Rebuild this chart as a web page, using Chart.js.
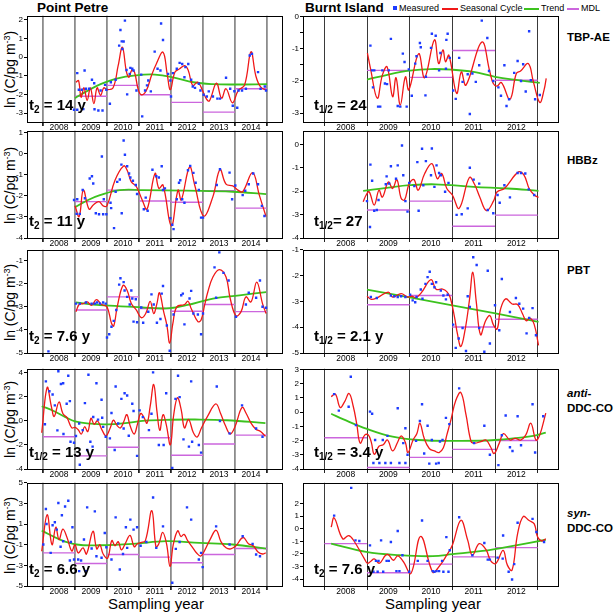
<!DOCTYPE html>
<html>
<head>
<meta charset="utf-8">
<script src="https://cdn.jsdelivr.net/npm/chart.js@4.4.0/dist/chart.umd.min.js"></script>
<style>
body{margin:0;width:614px;height:614px;position:relative;background:#fff;overflow:hidden;font-family:"Liberation Sans",Arial,sans-serif;color:#000}
canvas{position:absolute}
.t{position:absolute;white-space:nowrap;line-height:1}
.b{font-weight:bold}
.hl{position:absolute;white-space:nowrap;font-weight:bold;font-size:15px;line-height:1}
.hl sub{font-size:10px;vertical-align:-3px}
.yt{position:absolute;width:110px;left:-45px;text-align:center;font-size:14px;transform:rotate(-90deg);white-space:nowrap}
.yt sup{font-size:9px}
.cn{position:absolute;left:567px;font-weight:bold;font-size:11.5px;line-height:15px}
.lg{position:absolute;top:4px;font-size:9px;line-height:9px}
.ln{position:absolute;height:2px;top:8px}
</style>
</head>
<body>
<div class="t b" style="left:37px;top:1px;font-size:13.5px">Point Petre</div>
<div class="t b" style="left:305px;top:1px;font-size:13.5px">Burnt Island</div>
<div style="position:absolute;left:393px;top:6px;width:4px;height:4px;background:#1d3bff"></div>
<div class="lg" style="left:399px">Measured</div>
<div class="ln" style="left:442px;width:16px;background:#f01818"></div>
<div class="lg" style="left:460px">Seasonal Cycle</div>
<div class="ln" style="left:524px;width:15px;background:#3cc21e"></div>
<div class="lg" style="left:541px">Trend</div>
<div class="ln" style="left:567px;width:12px;background:#cc66dd"></div>
<div class="lg" style="left:581px">MDL</div>

<div class="cn" style="top:30px">TBP-AE</div>
<div class="cn" style="top:153px">HBBz</div>
<div class="cn" style="top:263px">PBT</div>
<div class="cn" style="top:386px"><i>anti</i>-<br>DDC-CO</div>
<div class="cn" style="top:506px"><i>syn</i>-<br>DDC-CO</div>

<div class="yt" style="top:61px">ln (C/pg m<sup>-3</sup>)</div>
<div class="yt" style="top:177px">ln (C/pg m<sup>-3</sup>)</div>
<div class="yt" style="top:294px">ln (C/pg m<sup>-3</sup>)</div>
<div class="yt" style="top:411px">ln (C/pg m<sup>-3</sup>)</div>
<div class="yt" style="top:527px">ln (C/pg m<sup>-3</sup>)</div>

<div class="t" style="left:108px;top:596px;font-size:15px">Sampling year</div>
<div class="t" style="left:385px;top:596px;font-size:15px">Sampling year</div>

<script type="text/javascript">
// Point Petre, TBP-AE
const ppTbpPts = [[2009.07,-0.86],[2009.12,-1.75],[2008.97,-2.82],[2009.07,-2.82],[2009.26,-2.79],[2009.21,-1.75],[2009.34,-1.7],[2009.44,-1.7],[2009.3,-0.72],[2009.53,-1.22],[2009.6,-1.4],[2009.61,-2.8],[2009.73,-2.86],[2009.86,-2.86],[2009.8,-1.79],[2009.94,-1.49],[2009.98,-1.75],[2010.12,-1.35],[2010.09,-2.5],[2010.27,-1.22],[2010.38,0.61],[2010.42,1.45],[2010.46,0.84],[2010.52,0.83],[2010.56,1.95],[2010.48,0.43],[2010.61,-0.69],[2010.63,-2.0],[2010.71,-0.9],[2010.73,-0.58],[2010.79,-0.63],[2010.83,-0.72],[2010.92,-1.79],[2011.1,-3.18],[2011.07,-0.94],[2011.19,-1.79],[2011.25,-1.52],[2011.29,-1.26],[2011.37,-1.84],[2011.49,0.29],[2011.58,-0.63],[2011.67,-0.72],[2011.69,1.8],[2011.75,0.91],[2011.91,-0.9],[2011.98,-1.26],[2012.0,-2.11],[2012.06,-0.86],[2012.18,-0.63],[2012.27,-0.31],[2012.35,-0.37],[2012.45,-0.54],[2012.54,-0.37],[2012.42,-1.08],[2012.63,-1.22],[2012.68,-1.58],[2012.75,-1.65],[2012.87,-1.43],[2012.92,-1.79],[2013.02,-2.02],[2013.12,-2.11],[2013.18,-1.84],[2013.31,-2.11],[2013.45,-2.23],[2013.53,-2.23],[2013.72,-1.11],[2013.85,-1.7],[2013.93,-2.61],[2013.98,-1.83],[2014.07,-2.72],[2014.11,-1.79],[2014.22,-1.79],[2014.34,-1.7],[2014.46,0.08],[2014.53,0.17],[2014.72,-0.81],[2014.8,-1.7],[2014.93,-1.58],[2014.97,-1.79]];
const ppTbpSeas = [[2009.03,-1.35],[2009.11,-1.26],[2009.19,-2.15],[2009.28,-1.65],[2009.38,-2.32],[2009.48,-1.65],[2009.59,-2.5],[2009.69,-1.65],[2009.8,-2.05],[2009.9,-1.65],[2010.0,-1.75],[2010.19,-1.65],[2010.35,-0.45],[2010.48,0.52],[2010.61,-0.81],[2010.69,-1.08],[2010.77,-0.72],[2010.86,-0.81],[2010.97,-1.7],[2011.07,-2.02],[2011.23,-1.79],[2011.39,-0.99],[2011.54,-0.37],[2011.75,0.26],[2011.88,-0.9],[2011.98,-1.75],[2012.12,-0.81],[2012.27,-0.63],[2012.43,-0.46],[2012.54,-0.72],[2012.68,-1.52],[2012.83,-1.35],[2012.95,-1.65],[2013.1,-2.23],[2013.2,-2.35],[2013.42,-1.4],[2013.58,-2.2],[2013.72,-1.7],[2013.92,-2.45],[2014.1,-1.8],[2014.3,-1.5],[2014.5,0.28],[2014.65,-1.0],[2014.8,-1.6],[2015.0,-1.8]];
const ppTbpTrend = [[2009.0,-2.2],[2009.4,-1.8],[2009.8,-1.45],[2010.3,-1.15],[2010.9,-0.98],[2011.5,-0.94],[2012.1,-1.1],[2012.7,-1.35],[2013.3,-1.45],[2014.0,-1.47],[2015.0,-1.45]];
const ppTbpMdl = [[2009,-2.1],[2010,-1.52],[2011,-2.02],[2012,-2.43],[2013,-2.95],[2014,-1.7]];

// Burnt Island, TBP-AE
const biTbpPts = [[2009.08,-0.9],[2009.12,-1.67],[2009.17,-1.67],[2009.14,-2.2],[2009.26,-2.8],[2009.31,-2.8],[2009.36,-1.67],[2009.42,-2.08],[2009.47,-2.1],[2009.51,-1.67],[2009.56,-0.69],[2009.72,-2.78],[2009.78,-2.8],[2009.84,-1.15],[2009.88,-1.41],[2009.93,-2.8],[2009.98,-1.64],[2010.05,-2.46],[2010.13,-1.46],[2010.16,-1.23],[2010.24,-0.82],[2010.26,-0.95],[2010.37,-2.45],[2010.38,-1.87],[2010.5,-0.97],[2010.52,-0.53],[2010.61,-0.59],[2010.69,-1.67],[2010.72,-1.13],[2010.85,-1.62],[2010.86,-0.72],[2010.89,-0.53],[2010.94,-1.28],[2011.02,-2.3],[2011.08,-2.56],[2011.16,-1.28],[2011.24,-2.03],[2011.36,-1.79],[2011.41,-3.03],[2011.47,-1.77],[2011.55,-2.03],[2011.63,-1.51],[2011.69,-0.12],[2011.82,-0.66],[2011.86,-1.69],[2011.96,-2.0],[2012.08,-2.2],[2012.14,-2.46],[2012.22,-1.51],[2012.27,-2.78],[2012.33,-2.57],[2012.45,-1.75],[2012.53,-1.38],[2012.61,-2.0],[2012.66,-1.48],[2012.72,-2.33],[2012.8,-0.45],[2012.84,-1.98],[2012.94,-2.57],[2013.05,-2.44]];
const biTbpSeas = [[2009.01,-1.13],[2009.08,-1.6],[2009.24,-2.54],[2009.36,-1.82],[2009.47,-1.56],[2009.6,-2.49],[2009.68,-1.9],[2009.78,-2.75],[2009.9,-1.87],[2009.98,-2.28],[2010.21,-1.15],[2010.35,-1.9],[2010.58,-0.72],[2010.68,-1.46],[2010.78,-1.03],[2010.84,-1.4],[2010.92,-1.2],[2011.1,-2.39],[2011.21,-1.72],[2011.32,-2.13],[2011.69,-0.79],[2011.88,-1.72],[2011.96,-2.08],[2012.05,-2.16],[2012.15,-2.05],[2012.35,-2.57],[2012.5,-1.77],[2012.6,-1.69],[2012.78,-1.46],[2012.9,-2.03],[2013.05,-2.67],[2013.15,-2.28],[2013.2,-1.92]];
const biTbpTrend = [[2009.0,-1.96],[2009.5,-1.8],[2010.0,-1.68],[2010.5,-1.63],[2011.0,-1.65],[2011.5,-1.72],[2012.0,-1.87],[2012.5,-1.97],[2013.05,-2.06]];
const biTbpMdl = [[2009,-1.67],[2010,-1.89],[2011,-1.05],[2012,-1.98]];

// Point Petre, HBBz
const ppHbbPts = [[2008.97,-2.19],[2009.05,-2.85],[2009.15,-2.85],[2009.07,-2.16],[2009.31,-2.11],[2009.24,-1.72],[2009.46,-1.17],[2009.53,-1.06],[2009.57,-1.41],[2009.65,-2.82],[2009.75,-2.87],[2009.84,-0.12],[2009.88,-2.87],[2009.98,-2.87],[2009.9,-2.16],[2010.11,-2.32],[2010.13,-2.58],[2010.22,-3.53],[2010.27,-1.8],[2010.32,-1.33],[2010.4,-1.22],[2010.45,-0.51],[2010.52,0.64],[2010.56,-0.04],[2010.63,-0.59],[2010.69,-0.93],[2010.73,-1.12],[2010.81,-1.28],[2010.9,-1.48],[2010.94,-1.91],[2010.46,-2.82],[2011.15,-2.63],[2011.21,-2.08],[2011.27,-2.7],[2011.42,-0.75],[2011.54,-1.06],[2011.62,-1.12],[2011.71,-0.59],[2011.75,-1.72],[2011.81,-1.64],[2011.98,-3.06],[2012.04,-3.37],[2012.08,-3.58],[2012.18,-2.16],[2012.25,-1.37],[2012.29,-1.25],[2012.35,-2.16],[2012.42,-2.32],[2012.53,-0.78],[2012.6,-0.57],[2012.7,-0.9],[2012.77,-1.37],[2012.87,-1.72],[2012.94,-3.03],[2013.0,-3.03],[2013.43,-1.48],[2013.53,-0.73],[2013.83,-0.89],[2013.91,-2.16],[2014.01,-1.5],[2014.24,-1.96],[2014.32,-1.75],[2014.43,-1.44],[2014.57,-0.93],[2014.72,-1.44],[2014.84,-2.47],[2014.92,-2.95]];
const ppHbbSeas = [[2009.0,-2.47],[2009.13,-2.98],[2009.26,-1.72],[2009.44,-2.63],[2009.57,-2.43],[2009.75,-2.27],[2009.88,-2.47],[2010.0,-2.47],[2010.25,-1.25],[2010.52,-0.57],[2010.63,-0.78],[2010.76,-1.33],[2010.92,-1.56],[2011.1,-2.19],[2011.25,-2.63],[2011.5,-0.93],[2011.62,-1.64],[2011.75,-1.48],[2012.01,-3.42],[2012.22,-1.72],[2012.32,-2.19],[2012.58,-0.62],[2012.74,-1.48],[2013.02,-2.95],[2013.31,-2.03],[2013.53,-0.75],[2013.72,-1.44],[2013.93,-1.52],[2014.09,-1.72],[2014.24,-1.8],[2014.55,-0.89],[2014.76,-1.96],[2014.97,-2.98]];
const ppHbbTrend = [[2009.0,-2.54],[2009.41,-2.19],[2009.78,-1.96],[2010.4,-1.72],[2011.13,-1.72],[2012.48,-1.75],[2013.93,-1.8],[2014.97,-1.91]];
const ppHbbMdl = [[2009,-2.27],[2010,-1.72],[2011,-2.24],[2012,-2.3],[2013,-1.75],[2014,-2.58]];

// Burnt Island, HBBz
const biHbbPts = [[2009.0,-2.42],[2009.08,-0.86],[2009.07,-3.53],[2009.12,-1.55],[2009.17,-2.83],[2009.23,-2.8],[2009.27,-2.37],[2009.46,-1.36],[2009.44,-1.7],[2009.52,-1.67],[2009.56,-0.93],[2009.68,-1.46],[2009.72,-0.89],[2009.82,-0.04],[2009.85,-1.31],[2009.9,-2.42],[2009.95,-2.87],[2009.99,-1.64],[2010.11,-1.78],[2010.21,-2.83],[2010.18,-0.75],[2010.29,-0.18],[2010.32,-1.74],[2010.38,-0.71],[2010.5,-1.31],[2010.52,-0.17],[2010.58,-1.81],[2010.63,-0.89],[2010.69,-1.22],[2010.73,-1.31],[2010.83,-2.02],[2010.91,-1.64],[2011.1,-3.01],[2011.22,-2.98],[2011.36,-2.73],[2011.41,-0.99],[2011.5,-1.5],[2011.63,-1.67],[2011.83,-2.8],[2011.96,-2.94],[2012.06,-2.16],[2012.11,-2.49],[2012.22,-1.74],[2012.35,-2.26],[2012.53,-1.22],[2012.61,-1.22],[2012.71,-1.24],[2012.79,-1.92],[2012.92,-2.16]];
const biHbbSeas = [[2008.91,-2.45],[2008.98,-2.16],[2009.05,-2.02],[2009.17,-2.59],[2009.28,-1.95],[2009.36,-2.25],[2009.5,-1.6],[2009.6,-1.88],[2009.7,-1.5],[2009.8,-2.3],[2009.88,-2.37],[2009.99,-1.67],[2010.1,-1.5],[2010.2,-1.95],[2010.35,-1.25],[2010.52,-0.82],[2010.65,-1.46],[2010.75,-1.24],[2010.87,-1.88],[2011.0,-2.16],[2011.16,-2.73],[2011.4,-1.41],[2011.52,-1.7],[2011.64,-2.23],[2011.8,-2.83],[2011.97,-2.4],[2012.05,-2.02],[2012.22,-1.88],[2012.55,-1.17],[2012.68,-1.31],[2012.8,-1.88],[2012.92,-2.16],[2013.02,-2.26]];
const biHbbTrend = [[2008.91,-1.98],[2009.5,-1.84],[2010.0,-1.74],[2010.6,-1.7],[2011.5,-1.81],[2012.3,-1.88],[2013.02,-1.98]];
const biHbbMdl = [[2009,-2.8],[2010,-2.42],[2011,-3.5],[2012,-3.02]];

// Point Petre, PBT
const ppPbtPts = [[2008.17,-4.93],[2009.03,-2.86],[2009.15,-2.86],[2009.34,-2.81],[2009.52,-2.86],[2009.62,-2.86],[2009.69,-2.81],[2009.78,-2.86],[2009.88,-2.81],[2009.96,-2.86],[2010.0,-4.33],[2010.07,-4.19],[2010.14,-3.86],[2010.21,-3.61],[2010.29,-3.14],[2010.38,-2.04],[2010.42,-1.76],[2010.52,-1.93],[2010.55,-2.29],[2010.63,-2.57],[2010.71,-2.9],[2010.76,-2.29],[2010.79,-2.64],[2010.83,-3.64],[2010.94,-3.67],[2010.9,-2.67],[2011.07,-3.03],[2011.13,-3.69],[2011.29,-3.21],[2011.39,-2.46],[2011.46,-2.9],[2011.56,-3.69],[2011.67,-3.53],[2011.75,-2.1],[2011.71,-2.43],[2011.87,-3.81],[2011.96,-4.9],[2012.08,-3.33],[2012.32,-2.5],[2012.37,-2.43],[2012.42,-3.76],[2012.58,-2.64],[2012.63,-2.31],[2012.7,-3.29],[2012.84,-3.33],[2012.94,-4.19],[2013.0,-3.29],[2013.36,-1.29],[2013.51,-0.64],[2013.64,-1.53],[2013.8,-1.86],[2013.41,-2.61],[2014.03,-3.43],[2014.34,-2.9],[2014.43,-2.39],[2014.66,-2.61],[2014.78,-1.86],[2014.86,-3.0],[2014.97,-3.04]];
const ppPbtSeas = [[2009.03,-3.21],[2009.13,-2.9],[2009.26,-2.86],[2009.38,-2.79],[2009.52,-2.93],[2009.67,-2.69],[2009.83,-2.9],[2010.0,-3.0],[2010.14,-3.71],[2010.21,-3.83],[2010.32,-3.0],[2010.5,-2.07],[2010.63,-2.29],[2010.76,-2.86],[2010.92,-3.14],[2011.07,-3.47],[2011.21,-3.29],[2011.35,-2.76],[2011.46,-3.29],[2011.56,-2.86],[2011.64,-2.39],[2011.77,-3.21],[2011.87,-3.79],[2011.96,-4.57],[2012.06,-3.71],[2012.18,-3.0],[2012.42,-2.9],[2012.53,-2.76],[2012.63,-3.07],[2012.84,-3.64],[2012.94,-3.57],[2013.05,-2.93],[2013.15,-2.36],[2013.31,-1.71],[2013.51,-1.39],[2013.72,-1.71],[2013.85,-2.64],[2014.03,-3.39],[2014.19,-3.21],[2014.34,-2.57],[2014.5,-2.79],[2014.68,-1.93],[2014.86,-2.86],[2014.97,-3.29]];
const ppPbtTrend = [[2009.03,-2.81],[2009.78,-2.93],[2010.81,-3.0],[2011.85,-3.07],[2012.48,-2.93],[2013.31,-2.64],[2014.14,-2.5],[2014.97,-2.36]];
const ppPbtMdl = [[2009,-3.14],[2010,-2.57],[2011,-3.07],[2012,-3.19],[2013,-2.9],[2014,-3.21]];

// Burnt Island, PBT
const biPbtPts = [[2009.09,-2.83],[2009.23,-2.87],[2009.56,-2.77],[2009.64,-2.8],[2009.72,-2.83],[2009.8,-2.8],[2009.9,-2.83],[2010.01,-2.74],[2010.07,-2.96],[2010.13,-3.03],[2010.16,-2.83],[2010.26,-2.54],[2010.3,-2.9],[2010.37,-2.32],[2010.42,-2.06],[2010.47,-1.85],[2010.52,-2.32],[2010.58,-2.45],[2010.62,-2.26],[2010.73,-2.58],[2010.79,-2.77],[2010.85,-2.92],[2010.89,-2.74],[2011.02,-3.9],[2011.08,-4.8],[2011.15,-4.44],[2011.24,-4.03],[2011.32,-4.92],[2011.36,-2.8],[2011.41,-3.22],[2011.49,-1.29],[2011.57,-1.59],[2011.63,-4.03],[2011.75,-4.95],[2011.83,-1.81],[2011.88,-4.63],[2012.0,-3.15],[2012.1,-4.12],[2012.16,-2.13],[2012.35,-3.41],[2012.49,-2.87],[2012.57,-3.09],[2012.66,-3.28],[2012.74,-4.24],[2012.8,-3.64],[2012.88,-3.26],[2012.96,-4.31]];
const biPbtSeas = [[2009.0,-2.8],[2009.1,-2.92],[2009.25,-2.85],[2009.5,-2.64],[2009.6,-2.83],[2009.8,-2.7],[2009.95,-2.83],[2010.05,-2.8],[2010.15,-2.85],[2010.27,-2.67],[2010.5,-2.16],[2010.62,-2.53],[2010.77,-2.52],[2010.87,-2.62],[2010.95,-2.85],[2011.05,-3.6],[2011.12,-4.26],[2011.2,-4.75],[2011.3,-4.09],[2011.4,-2.96],[2011.48,-1.87],[2011.56,-3.0],[2011.66,-4.29],[2011.78,-3.75],[2011.88,-3.55],[2011.96,-3.9],[2012.05,-4.07],[2012.13,-3.3],[2012.25,-2.9],[2012.4,-3.1],[2012.53,-3.12],[2012.65,-3.5],[2012.73,-3.75],[2012.82,-3.65],[2012.92,-3.9],[2013.02,-4.7]];
const biPbtTrend = [[2009.0,-2.54],[2011.0,-3.15],[2013.02,-3.79]];
const biPbtMdl = [[2009,-3.13],[2010,-2.77],[2011,-3.99],[2012,-3.69]];

// Point Petre, anti-DDC-CO
const ppAntiPts = [[2008.06,-0.29],[2008.09,3.26],[2008.2,2.44],[2008.3,2.17],[2008.37,1.27],[2008.48,4.1],[2008.56,3.04],[2008.63,3.1],[2008.74,1.4],[2008.79,3.73],[2008.84,1.62],[2008.86,-1.74],[2008.97,-1.82],[2009.03,-1.27],[2009.13,-0.23],[2009.15,-3.65],[2009.24,-0.78],[2009.31,1.46],[2009.38,-2.42],[2009.42,3.81],[2009.48,-1.74],[2009.55,-2.15],[2009.57,0.31],[2009.67,3.1],[2009.72,0.09],[2009.83,1.73],[2009.88,-0.51],[2009.96,-1.33],[2010.09,-1.46],[2010.14,0.64],[2010.24,-2.42],[2010.27,2.83],[2010.35,-0.23],[2010.45,1.81],[2010.52,-0.64],[2010.55,2.28],[2010.63,2.09],[2010.79,1.4],[2010.83,0.8],[2010.94,-2.91],[2011.02,0.86],[2011.31,-0.78],[2011.39,0.58],[2011.44,4.0],[2011.62,-2.01],[2011.77,-2.01],[2011.85,2.28],[2012.04,-3.92],[2012.14,1.81],[2012.22,3.73],[2012.27,1.95],[2012.39,-1.55],[2012.56,-2.15],[2012.63,3.26],[2012.66,-1.74],[2012.87,-2.01],[2012.94,-2.64],[2013.43,2.83],[2013.53,-0.02],[2013.83,-1.05],[2014.22,1.27],[2014.66,-0.64],[2014.86,-1.33],[2008.45,-0.8],[2008.64,-1.1],[2009.85,0.25],[2010.68,-1.25],[2011.12,0.3]];
const ppAntiSeas = [[2007.96,-1.0],[2008.13,2.75],[2008.26,1.2],[2008.35,0.35],[2008.5,1.55],[2008.62,0.6],[2008.75,0.25],[2008.9,-0.6],[2009.0,-0.55],[2009.1,-0.75],[2009.2,-1.1],[2009.3,-0.5],[2009.4,-0.9],[2009.5,0.2],[2009.6,-0.3],[2009.7,0.0],[2009.85,-0.8],[2009.97,-1.25],[2010.1,-0.6],[2010.2,0.05],[2010.3,-0.35],[2010.42,-0.6],[2010.52,-0.1],[2010.62,0.5],[2010.72,-0.4],[2010.85,-1.1],[2010.95,-0.3],[2011.05,0.6],[2011.15,0.3],[2011.25,-0.2],[2011.35,1.2],[2011.46,3.0],[2011.56,0.8],[2011.65,-0.8],[2011.75,0.5],[2011.85,-0.3],[2011.98,-2.0],[2012.08,0.4],[2012.2,1.9],[2012.32,0.9],[2012.42,-0.6],[2012.55,0.1],[2012.7,-1.0],[2012.82,-1.35],[2012.95,-0.6],[2013.15,0.4],[2013.4,1.4],[2013.55,0.6],[2013.7,-0.4],[2013.85,-1.1],[2014.0,-0.5],[2014.22,1.1],[2014.35,0.6],[2014.5,-0.2],[2014.65,-0.7],[2014.8,-0.9],[2014.95,-1.3]];
const ppAntiTrend = [[2007.96,1.2],[2008.3,0.85],[2008.7,0.3],[2009.0,-0.05],[2009.5,-0.25],[2010.0,-0.3],[2010.5,-0.22],[2011.2,0.0],[2012.0,0.08],[2012.75,0.1],[2013.75,0.04],[2014.95,-0.2]];
const ppAntiMdl = [[2008,-1.33],[2009,-2.91],[2010,-2.2],[2011,-1.41],[2012,-2.86],[2013,-1.93],[2014,-1.19]];

// Burnt Island, anti-DDC-CO
const biAntiPts = [[2008.23,1.27],[2008.34,0.11],[2008.57,0.38],[2008.62,2.49],[2008.74,-0.91],[2009.07,0.04],[2009.12,-0.11],[2009.19,-1.96],[2009.37,-1.96],[2009.48,-1.67],[2009.15,-3.58],[2009.29,-3.58],[2009.43,-3.58],[2009.56,-3.58],[2009.76,-3.58],[2009.9,-3.58],[2009.72,0.27],[2009.85,-2.18],[2009.9,-1.13],[2009.95,-3.0],[2010.15,-2.02],[2010.24,-0.62],[2010.29,0.56],[2010.34,-2.91],[2010.42,-0.96],[2010.46,-3.62],[2010.52,-1.96],[2010.62,-3.62],[2010.68,-3.58],[2010.71,-2.07],[2010.77,-1.96],[2010.85,-0.4],[2010.93,-0.84],[2011.16,1.67],[2011.51,-2.18],[2011.75,-0.96],[2011.88,-3.0],[2012.08,-3.73],[2012.16,-1.62],[2012.25,-0.24],[2012.35,-2.47],[2012.41,-2.73],[2012.53,-0.29],[2012.61,-2.33],[2012.88,0.56],[2012.94,-2.84],[2013.13,-0.29]];
const biAntiSeas = [[2008.16,1.09],[2008.26,1.27],[2008.37,0.33],[2008.47,0.7],[2008.58,1.31],[2008.68,0.38],[2008.76,-0.84],[2008.84,-2.18],[2008.95,-1.6],[2009.03,-1.6],[2009.1,-2.11],[2009.17,-2.96],[2009.28,-2.4],[2009.38,-2.29],[2009.48,-1.96],[2009.6,-2.73],[2009.72,-2.1],[2009.8,-1.67],[2009.9,-2.13],[2009.96,-2.84],[2010.08,-1.96],[2010.17,-1.5],[2010.24,-0.78],[2010.34,-1.84],[2010.46,-2.56],[2010.58,-2.73],[2010.69,-2.84],[2010.79,-2.51],[2010.87,-1.62],[2010.97,-0.51],[2011.08,0.82],[2011.2,1.38],[2011.32,-0.18],[2011.44,-2.07],[2011.52,-2.18],[2011.67,-2.07],[2011.79,-1.96],[2011.9,-2.47],[2011.98,-2.91],[2012.1,-2.18],[2012.2,-1.51],[2012.35,-1.96],[2012.47,-1.84],[2012.6,-1.96],[2012.72,-1.62],[2012.84,-0.78],[2012.96,-1.96],[2013.05,-1.6],[2013.19,-0.07]];
const biAntiTrend = [[2008.16,-0.11],[2008.45,-0.51],[2009.0,-1.18],[2009.6,-1.73],[2010.2,-1.96],[2011.0,-2.02],[2012.0,-1.96],[2012.9,-1.67],[2013.19,-1.44]];
const biAntiMdl = [[2008,-1.8],[2009,-3.89],[2010,-3.18],[2011,-2.62],[2012,-2.0]];

// Point Petre, syn-DDC-CO
const ppSynPts = [[2008.01,-0.98],[2008.09,2.46],[2008.11,1.01],[2008.24,-1.79],[2008.3,0.88],[2008.37,1.17],[2008.43,0.46],[2008.48,3.04],[2008.59,1.85],[2008.63,-0.66],[2008.69,2.71],[2008.79,3.26],[2008.84,-2.53],[2008.87,-0.73],[2008.92,0.69],[2008.97,-2.43],[2009.13,-3.56],[2009.1,-2.43],[2009.19,-2.53],[2009.34,-3.56],[2009.38,2.62],[2009.52,-1.37],[2009.62,2.23],[2009.67,-2.11],[2009.83,-2.27],[2009.93,0.14],[2009.98,-1.24],[2010.14,-2.43],[2010.27,1.65],[2010.4,-3.4],[2010.59,0.69],[2010.63,-1.31],[2010.73,1.43],[2010.83,0.46],[2010.94,0.69],[2011.23,-0.73],[2011.44,3.58],[2011.54,-1.31],[2011.75,0.78],[2012.04,-4.68],[2012.27,-0.73],[2012.5,2.62],[2012.63,1.43],[2012.87,-2.43],[2012.94,-1.79],[2012.99,-3.17],[2013.41,0.78],[2013.83,-0.98],[2014.24,-0.18],[2014.55,-0.92],[2014.66,-1.95],[2014.78,-2.11],[2008.55,-1.2],[2009.28,-0.5],[2010.5,-1.9],[2011.05,-1.1],[2012.15,-1.4]];
const ppSynSeas = [[2007.96,-1.63],[2008.13,1.9],[2008.28,-1.0],[2008.4,0.7],[2008.5,-0.5],[2008.62,0.5],[2008.75,-0.3],[2008.9,-1.6],[2009.0,-1.0],[2009.1,-1.8],[2009.25,-1.3],[2009.36,-1.9],[2009.56,0.3],[2009.68,-1.4],[2009.78,-1.0],[2009.88,-1.9],[2010.02,-2.3],[2010.15,-0.6],[2010.25,-1.1],[2010.35,-0.7],[2010.45,-1.5],[2010.57,-0.9],[2010.72,-0.1],[2010.85,-1.2],[2010.95,-0.9],[2011.05,-0.8],[2011.2,-0.6],[2011.4,2.3],[2011.53,-1.2],[2011.62,-0.9],[2011.74,0.2],[2011.86,-0.9],[2011.97,-3.1],[2012.07,-1.0],[2012.21,0.35],[2012.31,-0.2],[2012.41,0.0],[2012.52,-0.6],[2012.66,-1.2],[2012.8,-1.8],[2012.93,-2.1],[2013.06,-1.5],[2013.22,-0.5],[2013.41,0.4],[2013.56,-0.7],[2013.72,-1.3],[2013.87,-1.4],[2014.03,-1.1],[2014.25,-0.3],[2014.42,-0.9],[2014.57,-1.1],[2014.72,-1.7],[2014.86,-1.9],[2014.96,-1.8]];
const ppSynTrend = [[2007.96,0.37],[2008.53,-0.5],[2009.05,-0.98],[2009.78,-1.05],[2010.81,-0.92],[2011.85,-0.66],[2012.89,-0.82],[2013.93,-0.98],[2014.97,-1.37]];
const ppSynMdl = [[2008,-1.79],[2009,-2.82],[2010,-1.95],[2011,-2.2],[2012,-2.75],[2013,-1.95],[2014,-1.37]];

// Burnt Island, syn-DDC-CO
const biSynPts = [[2008.23,1.05],[2008.63,3.26],[2008.73,-0.92],[2008.82,-0.97],[2009.07,-1.32],[2009.15,-3.42],[2009.25,-3.42],[2009.38,-3.42],[2009.69,-3.37],[2009.76,-3.37],[2009.21,-2.55],[2009.27,-2.55],[2009.46,-2.55],[2009.51,-2.55],[2009.33,-0.92],[2009.56,-1.05],[2009.72,-0.18],[2009.83,-2.1],[2009.99,-3.42],[2010.19,-2.55],[2010.29,0.66],[2010.42,-2.55],[2010.54,-3.37],[2010.58,-3.42],[2010.63,-3.37],[2010.69,-3.37],[2010.76,-2.55],[2010.79,-3.42],[2010.86,-0.66],[2010.91,-3.42],[2010.94,-1.71],[2011.16,0.92],[2011.47,-2.1],[2011.75,-1.13],[2011.83,-2.45],[2011.88,-2.45],[2012.06,-2.29],[2012.18,-2.37],[2012.19,-0.53],[2012.32,-3.42],[2012.4,-4.03],[2012.45,-2.81],[2012.53,0.48],[2012.88,0.79],[2012.97,-0.26],[2013.15,-1.05]];
const biSynSeas = [[2008.16,0.13],[2008.23,0.87],[2008.43,-0.79],[2008.57,-0.55],[2008.68,-0.89],[2008.94,-2.39],[2009.01,-2.74],[2009.09,-2.58],[2009.17,-2.39],[2009.29,-2.74],[2009.43,-2.13],[2009.5,-2.05],[2009.62,-2.5],[2009.72,-2.15],[2009.85,-2.6],[2010.03,-3.55],[2010.26,-0.6],[2010.54,-3.45],[2010.69,-3.0],[2010.85,-2.2],[2011.0,-1.3],[2011.2,0.68],[2011.36,-0.9],[2011.47,-2.1],[2011.63,-1.18],[2011.79,-1.66],[2011.9,-2.55],[2012.02,-2.76],[2012.19,-1.71],[2012.29,-2.89],[2012.4,-3.29],[2012.53,-0.39],[2012.66,0.97],[2012.8,0.66],[2012.92,0.39],[2013.0,-0.66],[2013.1,-0.97],[2013.19,-0.79]];
const biSynTrend = [[2008.16,-1.18],[2008.98,-1.84],[2009.76,-2.1],[2010.54,-2.18],[2011.0,-2.02],[2011.71,-1.76],[2012.49,-1.31],[2013.19,-0.87]];
const biSynMdl = [[2008,-1.18],[2009,-3.5],[2010,-2.81],[2011,-2.23],[2012,-1.5]];

const ppYears = [2008, 2009, 2010, 2011, 2012, 2013, 2014];
const biYears = [2008, 2009, 2010, 2011, 2012];

const halfLives = ["t<sub>2</sub> = 14 y", "t<sub>1/2</sub> = 24", "t<sub>2</sub> = 11 y", "t<sub>1/2</sub>= 27",
  "t<sub>2</sub> = 7.6 y", "t<sub>1/2</sub> = 2.1 y", "t<sub>1/2</sub> = 13 y", "t<sub>1/2</sub> = 3.4 y",
  "t<sub>2</sub> = 6.6 y", "t<sub>2</sub> = 7.6 y"];

const rowBox = [[15,107],[130,108],[249,104],[368,101],[482,104]];

const panels = [
  {col:0,row:0,y:[-3.48,2.21],ticks:[-3,-2,-1,0,1,2],pts:ppTbpPts,seas:ppTbpSeas,trend:ppTbpTrend,mdl:ppTbpMdl},
  {col:1,row:0,y:[-3.28,0.03],ticks:[-3,-2.5,-2,-1.5,-1,-0.5,0],pts:biTbpPts,seas:biTbpSeas,trend:biTbpTrend,mdl:biTbpMdl},
  {col:0,row:1,y:[-4,1.1],ticks:[-4,-3,-2,-1,0,1],pts:ppHbbPts,seas:ppHbbSeas,trend:ppHbbTrend,mdl:ppHbbMdl},
  {col:1,row:1,y:[-4,0.59],ticks:[-4,-3,-2,-1,0],pts:biHbbPts,seas:biHbbSeas,trend:biHbbTrend,mdl:biHbbMdl},
  {col:0,row:2,y:[-5,-0.53],ticks:[-5,-4,-3,-2,-1],pts:ppPbtPts,seas:ppPbtSeas,trend:ppPbtTrend,mdl:ppPbtMdl},
  {col:1,row:2,y:[-5,-1],ticks:[-5,-4,-3,-2,-1],pts:biPbtPts,seas:biPbtSeas,trend:biPbtTrend,mdl:biPbtMdl},
  {col:0,row:3,y:[-4,4.3],ticks:[-4,-3,-2,-1,0,1,2,3,4],pts:ppAntiPts,seas:ppAntiSeas,trend:ppAntiTrend,mdl:ppAntiMdl},
  {col:1,row:3,y:[-4,3.05],ticks:[-4,-3,-2,-1,0,1,2,3],pts:biAntiPts,seas:biAntiSeas,trend:biAntiTrend,mdl:biAntiMdl},
  {col:0,row:4,y:[-5,5],ticks:[-5,-4,-3,-2,-1,0,1,2,3,4,5],pts:ppSynPts,seas:ppSynSeas,trend:ppSynTrend,mdl:ppSynMdl},
  {col:1,row:4,y:[-4.55,3.66],ticks:[-4,-3,-2,-1,0,1,2],pts:biSynPts,seas:biSynSeas,trend:biSynTrend,mdl:biSynMdl}
];

function xy(a){ return a.map(d => ({x:d[0], y:d[1]})); }
function mdlSegments(a){
  let out = [];
  a.forEach(d => { out.push({x:d[0],y:d[1]}, {x:d[0]+1,y:d[1]}, {x:d[0]+1,y:null}); });
  return out;
}

const boxPlugin = {
  id: 'box',
  afterDraw(chart){
    const a = chart.chartArea, c = chart.ctx;
    c.save();
    c.strokeStyle = '#000';
    c.lineWidth = 1;
    c.strokeRect(Math.round(a.left)+0.5, Math.round(a.top)+0.5, Math.round(a.right-a.left)-1, Math.round(a.bottom-a.top));
    c.restore();
  }
};

const PADL = 26, PADT = 5, PADR = 3, PADB = 13;

panels.forEach((p, i) => {
  const years = p.col === 0 ? ppYears : biYears;
  const bx = p.col === 0 ? 27 : 303, bw = 257;
  const by = rowBox[p.row][0], bh = rowBox[p.row][1];
  const xMax = years[years.length-1] + 1.5;
  const lineCol = p.col === 0 ? '#8c8c8c' : '#3a3a3a';
  const lineW = p.col === 0 ? 1.8 : 1;

  const cv = document.createElement('canvas');
  cv.width = bw + PADL + PADR;
  cv.height = bh + PADT + PADB;
  cv.style.left = (bx - PADL) + 'px';
  cv.style.top = (by - PADT) + 'px';
  document.body.appendChild(cv);

  new Chart(cv, {
    type: 'line',
    data: {
      datasets: [
        {data: xy(p.pts), showLine:false, pointStyle:'rect', pointRadius:1.7, pointBackgroundColor:'#1d3bff', pointBorderWidth:0, order:0},
        {data: xy(p.seas), borderColor:'#f01818', borderWidth:1.3, pointRadius:0, tension:0.4, fill:false, order:1},
        {data: xy(p.trend), borderColor:'#3cc21e', borderWidth:1.8, pointRadius:0, tension:0.4, fill:false, order:2},
        {data: mdlSegments(p.mdl), borderColor:'#cc66dd', borderWidth:1.4, pointRadius:0, tension:0, spanGaps:false, fill:false, order:3}
      ]
    },
    options: {
      responsive: false,
      animation: false,
      events: [],
      layout: {padding: {top: PADT, right: PADR, left: 0, bottom: 0}},
      plugins: {legend: {display:false}, tooltip: {enabled:false}},
      scales: {
        x: {
          type: 'linear', min: 2007.5, max: xMax,
          afterFit: s => { s.height = PADB; },
          afterBuildTicks: s => {
            let t = [];
            years.forEach(y => { t.push({value:y}); t.push({value:y+0.5}); });
            t.push({value: years[years.length-1] + 1});
            s.ticks = t;
          },
          border: {display:false},
          grid: {
            color: c => Number.isInteger(c.tick.value) ? lineCol : 'rgba(0,0,0,0)',
            lineWidth: lineW,
            tickColor: c => Number.isInteger(c.tick.value) ? '#222' : 'rgba(0,0,0,0)',
            tickLength: 4
          },
          ticks: {
            autoSkip: false, maxRotation: 0, padding: -3,
            color: '#000', font: {size: 8.5, family: '"Liberation Sans", Arial'},
            callback: v => Number.isInteger(v) ? '' : String(Math.floor(v))
          }
        },
        y: {
          min: p.y[0], max: p.y[1],
          afterFit: s => { s.width = PADL; },
          afterBuildTicks: s => { s.ticks = p.ticks.map(v => ({value:v})); },
          border: {display:false},
          grid: {drawOnChartArea:false, tickLength:3, color:'#000', lineWidth:1},
          ticks: {
            padding: 1, color: '#000', font: {size: 8, family: '"Liberation Sans", Arial'},
            callback: v => Number.isInteger(v) ? String(v) : ''
          }
        }
      }
    },
    plugins: [boxPlugin]
  });

  const lab = document.createElement('div');
  lab.className = 'hl';
  lab.innerHTML = halfLives[i];
  lab.style.left = (p.col === 0 ? 29 : 314) + 'px';
  lab.style.top = (by + bh - 25) + 'px';
  document.body.appendChild(lab);
});
</script>
</body>
</html>
